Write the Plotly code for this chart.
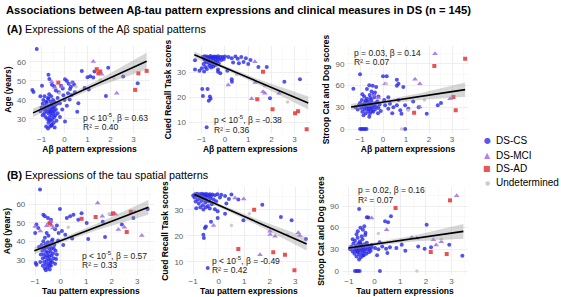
import plotly.graph_objects as go

# ---------------- data ----------------
# Panel A1: A-beta pattern expression vs Age
ab_age_cs = [(-1.40, 45.3), (-1.35, 44.2), (-1.21, 66.8), (-1.05, 42.0), (-0.98, 47.5), (-0.70, 53.2),
             (-0.66, 51.0), (-0.55, 48.0), (-0.45, 47.2), (-0.38, 45.0), (-0.25, 44.0), (-0.15, 47.5),
             (-0.08, 46.0), (0.02, 50.9), (0.10, 50.0), (0.18, 48.5), (0.28, 47.0), (0.24, 45.8),
             (0.35, 49.2), (0.42, 48.0), (0.30, 42.6), (0.22, 40.3), (0.60, 38.2), (0.55, 33.8),
             (0.02, 28.6), (0.87, 46.3), (1.05, 45.5), (1.00, 52.0), (1.12, 52.5), (1.25, 51.8),
             (1.30, 55.0), (0.75, 55.2), (1.90, 57.0), (2.55, 52.3), (3.18, 48.8), (1.80, 42.1),
             (-0.30, 41.0), (-0.20, 38.2), (0.00, 40.0), (0.10, 37.0), (-0.10, 35.0), (0.45, 44.0),
             (-0.20, 31.0), (0.15, 43.5), (-0.05, 42.5),
             (-1.00, 36.0), (-0.95, 38.0), (-0.90, 35.0), (-0.88, 33.0), (-0.85, 37.0), (-0.82, 31.0),
             (-0.80, 39.0), (-0.78, 34.0), (-0.75, 36.0), (-0.75, 30.0), (-0.72, 41.0), (-0.70, 33.0),
             (-0.70, 28.0), (-0.68, 37.0), (-0.66, 35.0), (-0.65, 31.0), (-0.63, 26.0), (-0.62, 39.0),
             (-0.60, 34.0), (-0.60, 29.0), (-0.58, 36.0), (-0.57, 32.0), (-0.55, 38.0), (-0.55, 27.0),
             (-0.53, 35.0), (-0.52, 30.0), (-0.50, 33.0), (-0.50, 40.0), (-0.48, 36.0), (-0.47, 28.0),
             (-0.45, 34.0), (-0.45, 31.0), (-0.43, 25.5), (-0.42, 37.0), (-0.40, 32.0), (-0.38, 35.0),
             (-0.35, 29.0), (-0.33, 38.0), (-0.30, 33.0), (-0.92, 40.0), (-0.87, 42.0), (-0.80, 26.0),
             (-0.72, 25.0), (-0.67, 43.0), (-0.58, 42.0), (-0.95, 32.0), (-1.05, 34.0), (-0.78, 38.5),
             (-0.62, 33.5), (-0.52, 36.5), (-0.70, 40.5), (-0.83, 35.0), (-0.57, 26.5), (-0.66, 29.5),
             (-0.45, 39.0)]
ab_age_mci = [(-0.56, 49.6), (-0.12, 47.0), (0.30, 49.0), (1.25, 60.2), (2.27, 43.5), (1.62, 53.5),
              (-0.42, 46.5)]
ab_age_ad = [(-0.27, 49.1), (1.40, 56.2), (1.47, 54.0), (1.55, 55.0), (3.21, 54.0), (3.57, 55.3), (3.07, 45.3)]
ab_age_und = [(0.50, 47.0), (2.15, 51.5), (-0.22, 43.5), (1.55, 50.5)]

# Panel A2: A-beta pattern expression vs Cued Recall
ab_cued_cs = [(-0.95, 36.0), (-0.90, 35.2), (-0.88, 36.3), (-0.85, 34.5), (-0.82, 35.8), (-0.80, 33.8),
              (-0.78, 36.2), (-0.75, 35.0), (-0.72, 34.2), (-0.70, 36.0), (-0.68, 35.5), (-0.65, 33.5),
              (-0.62, 36.4), (-0.60, 34.8), (-0.58, 35.8), (-0.55, 33.0), (-0.52, 36.0), (-0.50, 34.5),
              (-0.48, 35.6), (-0.45, 36.2), (-0.42, 33.8), (-0.40, 35.0), (-0.38, 36.0), (-0.35, 34.2),
              (-0.32, 35.5), (-0.30, 36.3), (-0.27, 33.5), (-0.25, 35.0), (-0.20, 36.0), (-0.15, 34.8),
              (-0.10, 36.0), (-0.05, 35.2), (0.00, 36.2), (-0.68, 32.5), (-0.60, 31.8), (-0.85, 32.0),
              (-0.92, 33.2), (-0.78, 31.2), (-0.50, 32.2), (-0.40, 32.8),
              (0.15, 36.0), (0.29, 35.5), (0.45, 36.2), (0.55, 35.3), (0.70, 36.0), (0.80, 34.0),
              (0.90, 35.5), (1.00, 33.2), (1.10, 34.8), (0.60, 33.5), (0.35, 33.8),
              (-1.29, 34.7), (-1.29, 31.0), (-1.10, 30.5), (-1.00, 31.5), (-0.90, 30.2),
              (-0.30, 31.0), (-0.30, 30.1), (0.29, 27.1), (0.30, 26.1), (-0.98, 23.2), (-0.75, 23.2),
              (-0.95, 20.4), (-0.65, 20.2), (-0.62, 19.3), (-0.70, 18.5), (1.80, 32.0), (1.44, 32.0),
              (2.56, 26.1), (3.23, 27.1), (1.94, 19.5), (-0.79, 7.9), (-0.20, 29.5), (0.10, 30.5)]
ab_cued_mci = [(1.29, 34.1), (0.14, 24.8), (1.30, 25.8), (1.64, 22.1), (1.72, 21.5), (2.33, 21.5), (1.15, 19.3)]
ab_cued_ad = [(1.64, 30.1), (1.39, 19.1), (2.05, 15.1), (3.02, 13.5), (3.15, 14.3), (3.52, 7.1)]
ab_cued_und = [(0.50, 29.0), (1.70, 24.5), (2.70, 18.0)]

# Panel A3: A-beta pattern expression vs Stroop
ab_stroop_cs = [(-1.00, 0), (-0.93, 0), (-0.86, 0), (-0.79, 0), (-0.72, 0), (0.96, 0),
                (-1.00, 75.7), (-1.29, 55.9), (0.00, 73.0), (0.16, 73.0), (0.60, 68.3), (0.67, 62.8),
                (0.60, 60.0), (0.88, 58.2), (-0.60, 60.5), (-0.45, 60.0), (-0.30, 58.0), (-0.70, 55.5),
                (-0.50, 52.0), (-0.35, 50.5),
                (-1.20, 30), (-1.10, 27), (-1.05, 33), (-1.00, 36), (-0.95, 29), (-0.92, 40), (-0.90, 24),
                (-0.88, 34), (-0.85, 31), (-0.82, 45), (-0.80, 27), (-0.78, 37), (-0.75, 22), (-0.73, 32),
                (-0.70, 42), (-0.70, 29), (-0.68, 35), (-0.65, 25), (-0.63, 38), (-0.60, 31), (-0.58, 47),
                (-0.57, 21), (-0.55, 34), (-0.52, 28), (-0.50, 40), (-0.48, 36), (-0.45, 30), (-0.43, 24),
                (-0.40, 33), (-0.38, 44), (-0.35, 27), (-0.32, 36), (-0.30, 31), (-0.25, 38), (-0.22, 22),
                (-0.20, 29), (-0.15, 34), (-0.10, 25), (-0.85, 19), (-0.60, 17), (-0.40, 48), (-0.20, 45),
                (-0.90, 48), (-0.80, 33.5), (-0.62, 27.5), (-0.50, 24.5), (-0.75, 39.5), (-0.55, 43),
                (0.09, 32.8), (0.23, 28), (0.30, 35), (0.45, 30), (0.60, 33), (0.75, 26), (0.96, 33),
                (1.10, 28), (1.31, 38), (0.67, 40), (0.23, 44), (0.80, 21), (1.90, 21.2), (2.52, 36),
                (2.38, 32.8), (0.40, 22), (1.55, 30), (0.05, 40)]
ab_stroop_mci = [(1.39, 68.8), (1.60, 62.8), (2.26, 104.3), (1.60, 30.5), (2.91, 42.0), (-0.38, 46.6),
                 (-0.20, 43.0), (0.09, 62.8)]
ab_stroop_ad = [(2.23, 87.2), (3.57, 97.4), (3.06, 44.3), (3.16, 25.9), (1.35, 22.6)]
ab_stroop_und = [(0.15, 62.5), (1.10, 26.0), (1.80, 40.0), (0.81, 0.0)]

# Panel B1: tau pattern expression vs Age
tau_age_cs = [(-0.81, 67.7),
              (-0.75, 38), (-0.72, 35), (-0.70, 31), (-0.70, 27), (-0.68, 40), (-0.66, 33), (-0.65, 29),
              (-0.63, 36), (-0.62, 25.5), (-0.60, 38.5), (-0.60, 31.5), (-0.58, 27.5), (-0.57, 34.5),
              (-0.55, 36.8), (-0.55, 29.5), (-0.53, 32.5), (-0.52, 26), (-0.50, 39.5), (-0.50, 34),
              (-0.48, 30.5), (-0.47, 28), (-0.45, 36), (-0.45, 32), (-0.43, 25), (-0.42, 38), (-0.40, 30),
              (-0.40, 34.5), (-0.38, 27), (-0.37, 32.5), (-0.35, 36.5), (-0.33, 29), (-0.32, 41),
              (-0.30, 33.5), (-0.28, 31), (-0.25, 38), (-0.22, 28), (-0.20, 35), (-0.18, 30.5),
              (-0.15, 33), (-0.78, 33), (-0.80, 29), (-0.85, 37), (-0.62, 42), (-0.48, 43), (-0.58, 24.5),
              (-0.66, 36.5), (-0.44, 27), (-0.35, 40), (-0.27, 36), (-0.53, 37.5), (-0.40, 28.5),
              (-1.00, 44.5), (-0.95, 49), (-0.88, 47.1), (-0.68, 54.3), (-0.62, 53.5), (-0.50, 52.5),
              (-0.38, 51.6), (-0.55, 44.5), (-0.22, 46.5), (-0.15, 48.5), (-0.08, 44.5), (-0.03, 57.3),
              (0.05, 45.5), (0.18, 43.5), (0.24, 52.5), (0.37, 53.5), (0.50, 54.3), (0.69, 51.6),
              (0.82, 55), (1.02, 49.8), (1.08, 41.3), (1.74, 42.3), (2.85, 52.5), (3.41, 57.3),
              (-0.98, 28.4), (-0.95, 27.5), (0.10, 38), (-0.10, 40.5), (0.45, 41.5), (1.65, 50.5), (2.40, 49)]
tau_age_mci = [(-1.00, 48), (-0.55, 48.4), (-0.48, 49.8), (-0.38, 50.7), (-0.35, 48.5), (-0.30, 47.2),
               (1.45, 60.5), (1.63, 53.4), (1.97, 54.3), (2.15, 54.5), (2.26, 46.3), (2.50, 47.5),
               (3.18, 43.2), (-0.80, 45.5)]
tau_age_ad = [(0.82, 52.1), (1.37, 53.0), (2.05, 55.0), (2.75, 55.8), (2.59, 45.0), (-0.42, 49.6)]
tau_age_und = [(1.90, 54.8), (0.30, 47.5), (2.90, 56.2)]

# Panel B2: tau pattern expression vs Cued Recall
tau_cued_cs = [(-1.00, 35.5), (-0.95, 34.8), (-0.92, 36.0), (-0.90, 33.2), (-0.87, 35.3), (-0.85, 36.2),
               (-0.82, 34.0), (-0.80, 35.6), (-0.78, 32.5), (-0.75, 36.0), (-0.73, 34.6), (-0.70, 35.3),
               (-0.68, 33.4), (-0.66, 36.2), (-0.64, 34.9), (-0.62, 31.8), (-0.60, 35.8), (-0.58, 33.9),
               (-0.56, 36.0), (-0.54, 34.6), (-0.52, 32.8), (-0.50, 35.5), (-0.48, 36.1), (-0.46, 33.5),
               (-0.44, 34.9), (-0.42, 31.5), (-0.40, 35.6), (-0.38, 33.2), (-0.35, 36.0), (-0.32, 34.4),
               (-0.30, 35.3), (-0.27, 32.2), (-0.25, 35.9), (-0.20, 34.0), (-0.15, 35.6), (-0.10, 33.3),
               (-0.05, 36.0), (0.05, 34.8), (0.10, 35.8), (-0.72, 31.0), (-0.88, 30.6), (-0.60, 30.2),
               (-0.50, 31.0), (-0.35, 30.5),
               (0.25, 35.3), (0.40, 34.2), (0.50, 35.9), (0.77, 34.0), (0.30, 32.5), (-0.15, 30.3),
               (-0.04, 29.5), (-0.04, 26.9), (0.25, 28.5), (-0.54, 23.1), (-0.50, 23.6), (-0.60, 20.5),
               (-0.58, 19.2), (0.97, 26.0), (1.71, 32.0), (2.44, 27.3), (2.86, 26.0), (3.42, 18.8),
               (-0.43, 7.7), (-0.30, 25.5)]
tau_cued_mci = [(0.64, 34.6), (0.98, 34.2), (2.01, 21.8), (2.21, 19.9), (2.02, 20.6), (3.12, 21.2),
                (3.18, 20.2), (1.62, 12.8), (-0.20, 24.0)]
tau_cued_ad = [(1.39, 30.1), (0.77, 15.0), (2.14, 13.7), (2.60, 12.8), (2.97, 6.8)]
tau_cued_und = [(1.20, 28.5), (2.70, 20.5), (0.50, 24.0)]

# Panel B3: tau pattern expression vs Stroop
tau_stroop_cs = [(-0.76, 0), (-0.70, 0), (-0.64, 0), (-0.58, 0), (0.21, 0),
                 (-0.60, 85.8), (-0.30, 74.3), (-0.24, 74.0), (0.41, 68.8), (0.53, 67.5), (0.64, 75.7),
                 (2.03, 64.2), (2.91, 36.5), (3.42, 21.2), (-0.55, 60), (-0.45, 57), (-0.40, 62),
                 (-0.65, 55), (-0.35, 53),
                 (-0.95, 30), (-0.90, 34), (-0.85, 27), (-0.82, 38), (-0.80, 31), (-0.78, 24), (-0.76, 42),
                 (-0.74, 29), (-0.72, 35), (-0.70, 20), (-0.68, 32), (-0.66, 46), (-0.65, 26), (-0.63, 38),
                 (-0.62, 30), (-0.60, 23), (-0.58, 34), (-0.57, 41), (-0.55, 28), (-0.53, 19), (-0.52, 36),
                 (-0.50, 31), (-0.48, 25), (-0.47, 44), (-0.45, 33), (-0.43, 29), (-0.42, 22), (-0.40, 37),
                 (-0.38, 27), (-0.36, 50), (-0.35, 32), (-0.32, 24), (-0.30, 39), (-0.28, 30), (-0.25, 35),
                 (-0.22, 26), (-0.20, 31), (-0.15, 28), (-0.12, 33), (-0.60, 16), (-0.50, 48), (-0.70, 51),
                 (-0.55, 38.5), (-0.68, 27.5), (-0.45, 21.5), (-0.85, 44),
                 (-0.11, 36), (0.02, 32), (0.15, 30), (0.30, 34), (0.45, 31), (0.60, 33), (0.85, 32),
                 (1.06, 36.5), (1.70, 34), (1.95, 31), (2.20, 33), (0.20, 40), (0.50, 25), (1.20, 28), (0.10, 22)]
tau_stroop_mci = [(-0.11, 73.4), (0.47, 57.2), (1.45, 46.5), (1.65, 45.5), (2.29, 43.4), (3.20, 104.3),
                  (2.40, 36.0), (2.60, 40.5)]
tau_stroop_ad = [(0.82, 87.2), (2.94, 97.8), (2.19, 26.3), (2.81, 23.5)]
tau_stroop_und = [(0.15, 52.0), (1.06, 42.0), (1.65, 0.0), (2.60, 44.0)]

# Regression lines (end points) and confidence band half-widths
fit_x = {"a1": [-1.37, 3.57], "a2": [-1.32, 3.59], "a3": [-1.39, 3.57],
         "b1": [-1.03, 3.44], "b2": [-0.95, 3.45], "b3": [-1.02, 3.46]}
fit_y = {"a1": [33.2, 60.4], "a2": [36.9, 17.6], "a3": [30.5, 54.5],
         "b1": [35.0, 58.2], "b2": [35.9, 16.9], "b3": [31.9, 54.9]}
band_hw = {"a1": [2.3, 1.1, 1.8, 4.4], "a2": [1.3, 0.7, 1.1, 2.6], "a3": [4.5, 2.5, 4.5, 10.0],
           "b1": [2.0, 1.2, 1.8, 4.0], "b2": [1.2, 0.7, 1.1, 2.5], "b3": [4.0, 2.5, 4.0, 10.2]}

stats_p = {"a1": "p < 10<sup>-5</sup>, β = 0.63", "a2": "p < 10<sup>-5</sup>, β = -0.38",
           "a3": "p = 0.03, β = 0.14", "b1": "p < 10<sup>-5</sup>, β = 0.57",
           "b2": "p < 10<sup>-5</sup>, β = -0.49", "b3": "p = 0.02, β = 0.16"}
stats_r2 = {"a1": "R² = 0.40", "a2": "R² = 0.36", "a3": "R² = 0.07",
            "b1": "R² = 0.33", "b2": "R² = 0.42", "b3": "R² = 0.07"}

groups = ["DS-CS", "DS-MCI", "DS-AD", "Undetermined"]
group_colors = ["rgba(40,40,232,0.8)", "rgba(160,110,230,0.85)", "rgba(232,62,62,0.9)", "rgba(200,200,200,0.9)"]
group_symbols = ["circle", "triangle-up", "square", "circle"]
group_sizes = [4, 5, 4, 3.5]

# ---------------- layout helpers ----------------
W, H = 561, 297
FONT = "Liberation Sans, Arial, sans-serif"


def fx(p):
    return p / W


def fy(p):
    return 1 - p / H


panels = [
    # key, point sets, x-title, y-title, x px box, y px box, x range, y range, y ticks, minor step, stats px
    ("a1", [ab_age_cs, ab_age_mci, ab_age_ad, ab_age_und], "Aβ pattern expressions", "Age (years)",
     (28.9, 150.1), (46, 133), [-1.55, 3.72], [22.6, 68.4], [30, 40, 50, 60], 5, (81, 117)),
    ("a2", [ab_cued_cs, ab_cued_mci, ab_cued_ad, ab_cued_und], "Aβ pattern expressions", "Cued Recall Task scores",
     (189.0, 311.3), (46, 133), [-1.55, 3.72], [5.6, 40.4], [10, 20, 30], 5, (212, 120)),
    ("a3", [ab_stroop_cs, ab_stroop_mci, ab_stroop_ad, ab_stroop_und], "Aβ pattern expressions",
     "Stroop Cat and Dog scores",
     (347.4, 468.6), (46, 133), [-1.55, 3.72], [-5.5, 114.9], [0, 30, 60, 90], 15, (352, 53)),
    ("b1", [tau_age_cs, tau_age_mci, tau_age_ad, tau_age_und], "Tau pattern expressions", "Age (years)",
     (28.3, 153.5), (187, 275), [-1.27, 3.64], [22.0, 69.1], [30, 40, 50, 60], 5, (80, 255)),
    ("b2", [tau_cued_cs, tau_cued_mci, tau_cued_ad, tau_cued_und], "Tau pattern expressions",
     "Cued Recall Task scores",
     (186.3, 311.5), (187, 275), [-1.27, 3.64], [5.0, 38.8], [10, 20, 30], 5, (210, 260)),
    ("b3", [tau_stroop_cs, tau_stroop_mci, tau_stroop_ad, tau_stroop_und], "Tau pattern expressions",
     "Stroop Cat and Dog scores",
     (341.9, 468.0), (187, 275), [-1.27, 3.64], [-5.5, 116.3], [0, 30, 60, 90], 15, (356, 190)),
]

fig = go.Figure()
annotations = []
layout_axes = {}

for i, (key, sets, xt, yt, xb, yb, xr, yr, yticks, yminor, spx) in enumerate(panels, start=1):
    xa = "x" if i == 1 else f"x{i}"
    ya = "y" if i == 1 else f"y{i}"
    # points
    for gi, pts in enumerate(sets):
        fig.add_trace(go.Scatter(
            x=[p[0] for p in pts], y=[p[1] for p in pts], mode="markers",
            marker=dict(color=group_colors[gi], symbol=group_symbols[gi], size=group_sizes[gi], line=dict(width=0)),
            name=groups[gi], showlegend=False, xaxis=xa, yaxis=ya, hoverinfo="x+y"))
    # confidence band + regression line
    x0, x1 = fit_x[key]
    y0, y1 = fit_y[key]
    bx = [x0, 0.0, 1.5, x1]
    center = [y0 + (y1 - y0) * (b - x0) / (x1 - x0) for b in bx]
    upper = [c + h for c, h in zip(center, band_hw[key])]
    lower = [c - h for c, h in zip(center, band_hw[key])]
    fig.add_trace(go.Scatter(x=bx + bx[::-1], y=upper + lower[::-1], fill="toself",
                             fillcolor="rgba(150,150,150,0.38)", line=dict(width=0), mode="lines",
                             showlegend=False, hoverinfo="skip", xaxis=xa, yaxis=ya))
    fig.add_trace(go.Scatter(x=fit_x[key], y=fit_y[key], mode="lines", line=dict(color="black", width=1.6),
                             showlegend=False, hoverinfo="skip", xaxis=xa, yaxis=ya))

    axname_x = "xaxis" if i == 1 else f"xaxis{i}"
    axname_y = "yaxis" if i == 1 else f"yaxis{i}"
    layout_axes[axname_x] = dict(
        domain=[fx(xb[0]), fx(xb[1])], range=xr, anchor=ya, tickvals=[-1, 0, 1, 2, 3],
        showline=False, zeroline=False, ticks="", showgrid=True, gridcolor="#ebebeb", gridwidth=0.8,
        minor=dict(dtick=0.5, tick0=0.5, showgrid=True, gridcolor="#f5f5f5", gridwidth=0.6),
        tickfont=dict(size=8, color="#5e5e5e", family=FONT), ticklabelstandoff=0,
        title=dict(text=xt, font=dict(size=8.5, color="black", family=FONT, weight="bold"), standoff=2),
        fixedrange=True)
    layout_axes[axname_y] = dict(
        domain=[fy(yb[1]), fy(yb[0])], range=yr, anchor=xa, tickvals=yticks,
        showline=False, zeroline=False, ticks="", showgrid=True, gridcolor="#ebebeb", gridwidth=0.8,
        minor=dict(dtick=yminor * 2, tick0=yticks[0] + yminor, showgrid=True, gridcolor="#f5f5f5", gridwidth=0.6),
        tickfont=dict(size=8, color="#5e5e5e", family=FONT), ticklabelstandoff=2,
        title=dict(text=yt, font=dict(size=8.5, color="black", family=FONT, weight="bold"), standoff=4),
        fixedrange=True)
    # stats text
    annotations.append(dict(text=stats_p[key], x=fx(spx[0]), y=fy(spx[1]), xref="paper", yref="paper",
                            xanchor="left", yanchor="middle", showarrow=False,
                            font=dict(size=8.5, color="#1a1a1a", family=FONT)))
    annotations.append(dict(text=stats_r2[key], x=fx(spx[0]), y=fy(spx[1] + 9.5), xref="paper", yref="paper",
                            xanchor="left", yanchor="middle", showarrow=False,
                            font=dict(size=8.5, color="#1a1a1a", family=FONT)))

# titles
annotations.append(dict(text="<b>Associations between Aβ-tau pattern expressions and clinical measures in DS (n = 145)</b>",
                        x=fx(4), y=fy(10), xref="paper", yref="paper", xanchor="left", yanchor="middle",
                        showarrow=False, font=dict(size=11.2, color="black", family=FONT)))
annotations.append(dict(text="<b>(A)</b> Expressions of the Aβ spatial patterns",
                        x=fx(5), y=fy(29), xref="paper", yref="paper", xanchor="left", yanchor="middle",
                        showarrow=False, font=dict(size=10.8, color="black", family=FONT)))
annotations.append(dict(text="<b>(B)</b> Expressions of the tau spatial patterns",
                        x=fx(5), y=fy(175), xref="paper", yref="paper", xanchor="left", yanchor="middle",
                        showarrow=False, font=dict(size=10.8, color="black", family=FONT)))

# legend (drawn as text symbols + labels)
legend_glyphs = ["●", "▲", "■", "●"]
legend_glyph_sizes = [8, 8, 8, 6]
legend_y = [141, 155, 168, 182]
for gi, g in enumerate(groups):
    annotations.append(dict(text=legend_glyphs[gi], x=fx(487), y=fy(legend_y[gi]), xref="paper", yref="paper",
                            xanchor="center", yanchor="middle", showarrow=False,
                            font=dict(size=legend_glyph_sizes[gi], color=group_colors[gi], family="DejaVu Sans")))
    annotations.append(dict(text=g, x=fx(494), y=fy(legend_y[gi]), xref="paper", yref="paper",
                            xanchor="left", yanchor="middle", showarrow=False,
                            font=dict(size=10, color="black", family=FONT)))

fig.update_layout(
    width=W, height=H, autosize=False,
    margin=dict(l=0, r=0, t=0, b=0),
    paper_bgcolor="white", plot_bgcolor="white",
    showlegend=False,
    annotations=annotations,
    font=dict(family=FONT),
    **layout_axes,
)

fig.write_html("out.html", config={"displayModeBar": False, "staticPlot": True},
               post_script="document.body.style.margin='0px'; document.body.style.padding='0px';")
